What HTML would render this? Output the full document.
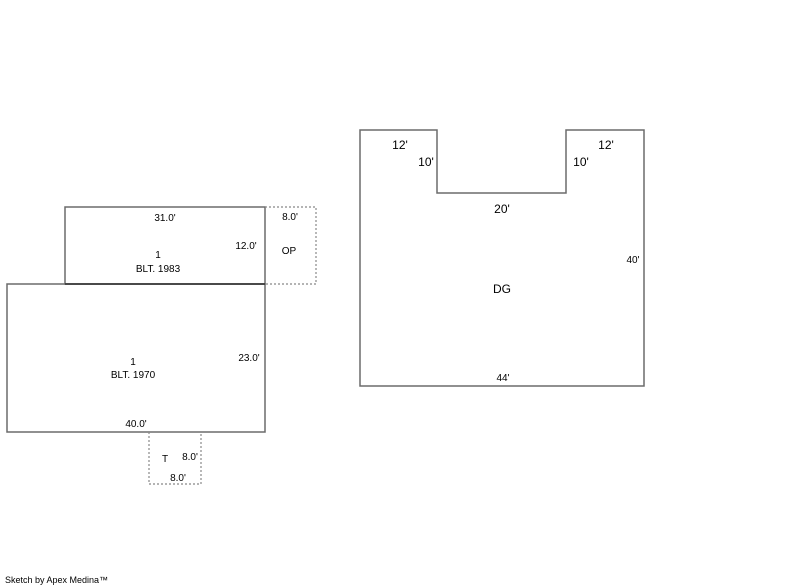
<!DOCTYPE html>
<html><head><style>body{margin:0;background:#fff}svg{display:block}text{font-family:"Liberation Sans",sans-serif;fill:#000}</style></head>
<body>
<svg width="800" height="587" viewBox="0 0 800 587" xmlns="http://www.w3.org/2000/svg">
<g fill="none" stroke="#6b6b6b" stroke-width="1.5">
<rect x="65" y="207" width="200" height="77"/>
<rect x="7" y="284" width="258" height="148"/>
<path d="M360 130 H437 V193 H566 V130 H644 V386 H360 Z"/>
</g>
<g fill="none" stroke="#888" stroke-width="1.2" stroke-dasharray="2,2">
<path d="M265 207 H316 V284 H265"/>
<path d="M149 432 V484 H201 V432"/>
</g>
<line x1="65" y1="284" x2="265" y2="284" stroke="#333" stroke-width="1.5"/>
<g font-size="10" text-anchor="middle">
<text x="165" y="221">31.0'</text>
<text x="246" y="249">12.0'</text>
<text x="158" y="258">1</text>
<text x="158" y="272">BLT. 1983</text>
<text x="290" y="220">8.0'</text>
<text x="289" y="254">OP</text>
<text x="133" y="365">1</text>
<text x="133" y="378">BLT. 1970</text>
<text x="249" y="361">23.0'</text>
<text x="136" y="427">40.0'</text>
<text x="165" y="462">T</text>
<text x="190" y="460">8.0'</text>
<text x="178" y="481">8.0'</text>
<text x="633" y="263">40'</text>
<text x="503" y="381">44'</text>
</g>
<g font-size="12" text-anchor="middle">
<text x="400" y="149">12'</text>
<text x="426" y="166">10'</text>
<text x="606" y="149">12'</text>
<text x="581" y="166">10'</text>
<text x="502" y="213">20'</text>
<text x="502" y="293">DG</text>
</g>
<text x="5" y="583" font-size="9">Sketch by Apex Medina™</text>
</svg>
</body></html>
